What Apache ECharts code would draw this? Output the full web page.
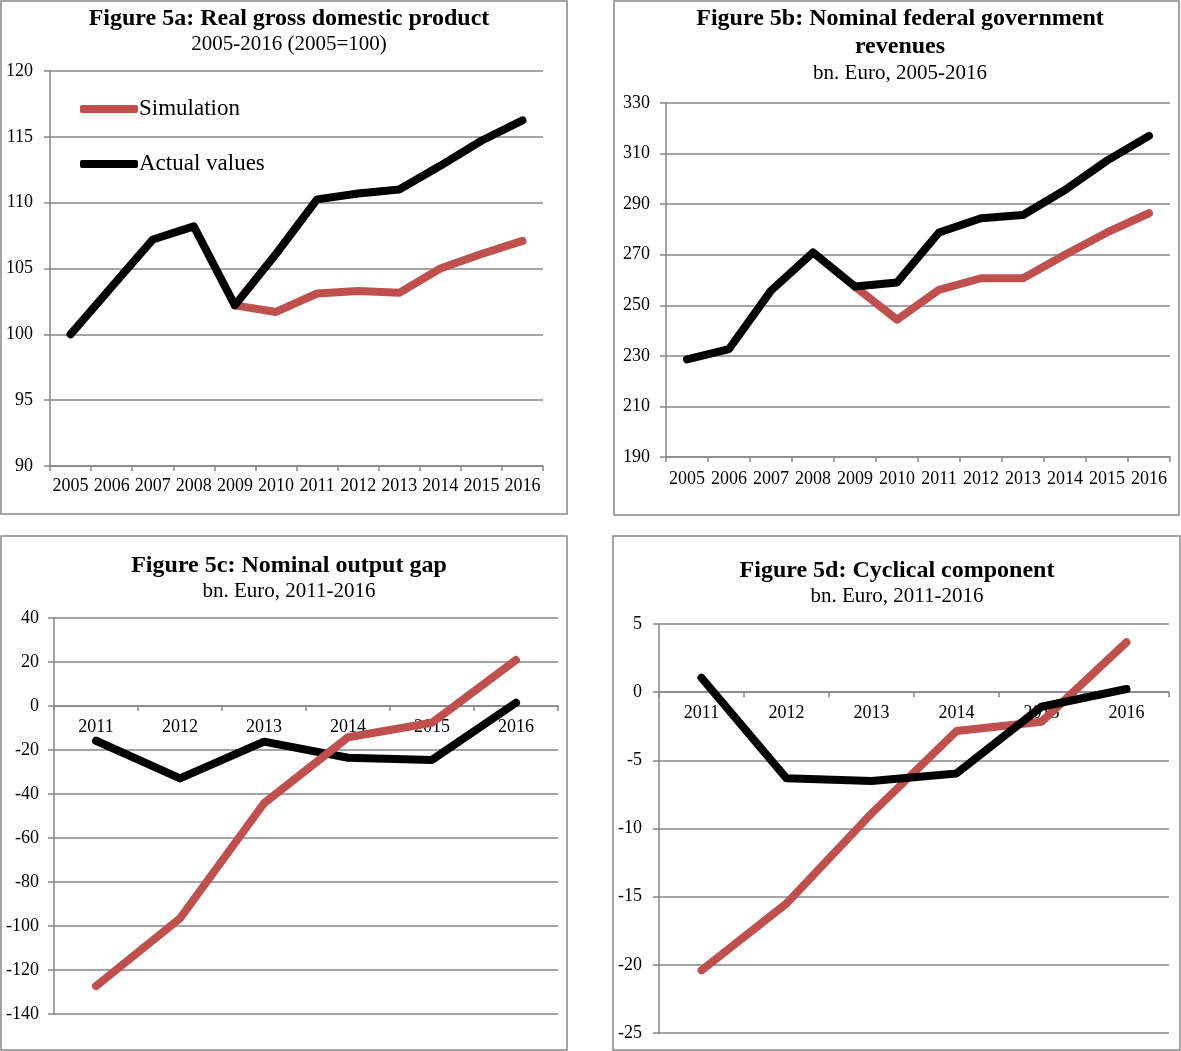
<!DOCTYPE html>
<html>
<head>
<meta charset="utf-8">
<script src="https://cdn.jsdelivr.net/npm/echarts@6/dist/echarts.min.js"></script>
<style>
  html, body { margin: 0; padding: 0; background: #fff; }
  #chart { width: 1181px; height: 1051px; }
</style>
</head>
<body>
<div id="chart"></div>
<script>
// Figure 5a: real GDP (2005=100)
const years = ['2005', '2006', '2007', '2008', '2009', '2010', '2011', '2012', '2013', '2014', '2015', '2016']
const gdpSim = [null, null, null, null, 102.2, 101.7, 103.1, 103.3, 103.15, 105.0, 106.1, 107.1]
const gdpActual = [100.0, 103.6, 107.2, 108.2, 102.2, 106.1, 110.25, 110.7, 111.0, 112.8, 114.7, 116.25]

// Figure 5b: federal government revenues, bn. Euro
const revSim = [null, null, null, null, 257.4, 244.3, 256.1, 260.7, 260.7, 270.0, 278.8, 286.4]
const revActual = [228.6, 232.7, 255.8, 270.9, 257.4, 259.0, 278.8, 284.4, 285.7, 295.6, 307.2, 317.0]

// Figure 5c / 5d: 2011-2016
const years2 = ['2011', '2012', '2013', '2014', '2015', '2016']
const gapSim = [-127.3, -96.5, -44.2, -14.2, -7.6, 20.9]
const gapActual = [-15.8, -32.9, -16.2, -23.5, -24.5, 1.5]
const cycSim = [-20.4, -15.5, -8.9, -2.85, -2.17, 3.66]
const cycActual = [1.06, -6.32, -6.52, -5.96, -1.07, 0.23]

const font = 'Liberation Serif'
const gray = '#878787'
const red = '#C0504D'

const grids = [
  { left: 50, top: 71, width: 493, height: 395 },
  { left: 666, top: 103, width: 504, height: 354 },
  { left: 54, top: 618, width: 504, height: 396 },
  { left: 659, top: 624, width: 510, height: 409 },
]
const yRanges = [[90, 120, 5], [190, 330, 20], [-140, 40, 20], [-25, 5, 5]]

const chart = echarts.init(document.getElementById('chart'))

const titleCfg = (text, sub, x, y, lh) => ({
  text: text,
  subtext: sub,
  left: x,
  top: y,
  textAlign: 'center',
  itemGap: 0,
  padding: 0,
  textStyle: { fontFamily: font, fontSize: 24, fontWeight: 'bold', color: '#000', lineHeight: lh || 26 },
  subtextStyle: { fontFamily: font, fontSize: 21, color: '#000', lineHeight: 24 },
})

// category axis sits on the zero line when the value range crosses zero
const xAxisCfg = (idx, data, margin) => {
  const [min, max] = yRanges[idx]
  const shift = min < 0 && max > 0 ? -grids[idx].height * (-min) / (max - min) : 0
  return {
    type: 'category',
    gridIndex: idx,
    data: data,
    boundaryGap: true,
    offset: shift,
    axisLine: { onZero: false, lineStyle: { color: gray, width: 1.5 } },
    axisTick: { show: true, length: 5, lineStyle: { color: gray, width: 1.5 } },
    axisLabel: { margin: margin, fontFamily: font, fontSize: 18, color: '#000', interval: 0 },
    splitLine: { show: false },
  }
}

const yAxisCfg = (idx, margin) => ({
  type: 'value',
  gridIndex: idx,
  min: yRanges[idx][0],
  max: yRanges[idx][1],
  interval: yRanges[idx][2],
  axisLine: { show: true, lineStyle: { color: gray, width: 1.5 } },
  axisTick: { show: true, length: 6, lineStyle: { color: gray, width: 1.5 } },
  axisLabel: { margin: margin, fontFamily: font, fontSize: 18, color: '#000' },
  splitLine: { show: true, lineStyle: { color: gray, width: 1.5 } },
})

const lineSeries = (name, idx, data, color) => ({
  name: name,
  type: 'line',
  xAxisIndex: idx,
  yAxisIndex: idx,
  data: data,
  symbol: 'none',
  connectNulls: false,
  lineStyle: { color: color, width: 8, cap: 'round', join: 'round' },
  itemStyle: { color: color },
})

const box = (x, y, w, h) => ({
  type: 'rect',
  shape: { x: x, y: y, width: w, height: h },
  style: { fill: 'none', stroke: gray, lineWidth: 1.5 },
  silent: true,
})

chart.setOption({
  animation: false,
  title: [
    titleCfg('Figure 5a: Real gross domestic product', '2005-2016 (2005=100)', 289, 6),
    titleCfg('Figure 5b: Nominal federal government\nrevenues', 'bn. Euro, 2005-2016', 900, 5, 28),
    titleCfg('Figure 5c: Nominal output gap', 'bn. Euro, 2011-2016', 289, 553),
    titleCfg('Figure 5d: Cyclical component', 'bn. Euro, 2011-2016', 897, 558),
  ],
  legend: {
    data: [
      { name: 'Simulation', icon: 'roundRect' },
      { name: 'Actual values', icon: 'roundRect' },
    ],
    orient: 'vertical',
    left: 80,
    top: 96,
    itemWidth: 58,
    itemHeight: 8,
    itemGap: 29,
    padding: 0,
    textStyle: { fontFamily: font, fontSize: 23, color: '#000', lineHeight: 26, padding: [0, 0, 0, -4] },
  },
  graphic: [
    box(1, 1, 566, 513),
    box(614, 1, 565, 514),
    box(1, 536, 566, 514),
    box(613, 536, 567, 514),
  ],
  grid: grids,
  xAxis: [
    xAxisCfg(0, years, 11),
    xAxisCfg(1, years, 13),
    xAxisCfg(2, years2, 12),
    xAxisCfg(3, years2, 12),
  ],
  yAxis: [
    yAxisCfg(0, 17),
    yAxisCfg(1, 16),
    yAxisCfg(2, 15),
    yAxisCfg(3, 17),
  ],
  series: [
    lineSeries('Simulation', 0, gdpSim, red),
    lineSeries('Actual values', 0, gdpActual, '#000'),
    lineSeries('Simulation', 1, revSim, red),
    lineSeries('Actual values', 1, revActual, '#000'),
    lineSeries('Actual values', 2, gapActual, '#000'),
    lineSeries('Simulation', 2, gapSim, red),
    lineSeries('Simulation', 3, cycSim, red),
    lineSeries('Actual values', 3, cycActual, '#000'),
  ],
})

window.addEventListener('resize', () => chart.resize())
</script>
</body>
</html>
